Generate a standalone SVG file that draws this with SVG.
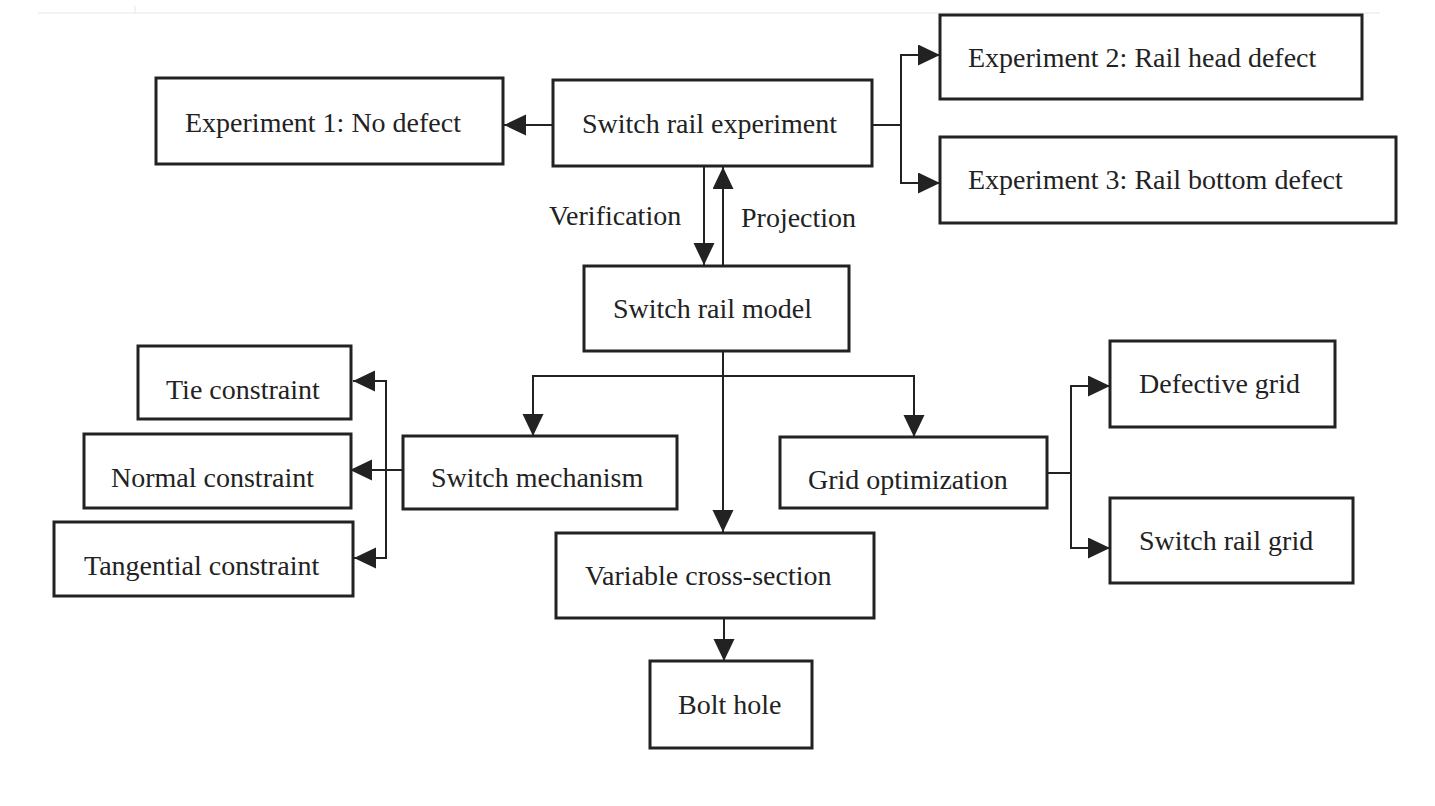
<svg xmlns="http://www.w3.org/2000/svg" width="1435" height="806" viewBox="0 0 1435 806">
<style>
.box{fill:#fff;stroke:#222;stroke-width:3}
.lbl{font-family:"Liberation Serif","Times New Roman",serif;font-size:28px;fill:#222}
.ln{fill:none;stroke:#222;stroke-width:2}
.arr{fill:none;stroke:#222;stroke-width:2;marker-end:url(#ah)}
</style>
<defs>
<marker id="ah" markerUnits="userSpaceOnUse" markerWidth="22" markerHeight="22" refX="22" refY="10.5" orient="auto">
<path d="M0,0 L22,10.5 L0,21 Z" fill="#222"/>
</marker>
</defs>
<rect width="1435" height="806" fill="#fff"/>
<line x1="38" y1="13" x2="1380" y2="13" stroke="#e6e6e6" stroke-width="1"/>
<line x1="135" y1="6" x2="135" y2="13" stroke="#e6e6e6" stroke-width="1"/>

<g id="connectors">
<line class="arr" x1="553" y1="125" x2="504" y2="125"/>
<polyline class="ln" points="873,125 901,125"/>
<line class="ln" x1="901" y1="55" x2="901" y2="183"/>
<line class="arr" x1="900" y1="55" x2="940" y2="55"/>
<line class="arr" x1="900" y1="183" x2="940" y2="183"/>
<line class="arr" x1="704" y1="166" x2="704" y2="265"/>
<line class="arr" x1="723" y1="265" x2="723" y2="167"/>
<line class="arr" x1="723" y1="351" x2="723" y2="532"/>
<polyline class="ln" points="533,376 914,376"/>
<line class="arr" x1="533" y1="375" x2="533" y2="436"/>
<line class="arr" x1="914" y1="375" x2="914" y2="437"/>
<line class="arr" x1="403" y1="470" x2="350" y2="470"/>
<line class="ln" x1="386" y1="381" x2="386" y2="558"/>
<line class="arr" x1="387" y1="381" x2="353" y2="381"/>
<line class="arr" x1="387" y1="558" x2="354" y2="558"/>
<line class="ln" x1="1047" y1="473" x2="1072" y2="473"/>
<line class="ln" x1="1071" y1="386" x2="1071" y2="548"/>
<line class="arr" x1="1070" y1="386" x2="1110" y2="386"/>
<line class="arr" x1="1070" y1="548" x2="1110" y2="548"/>
<line class="arr" x1="724" y1="618" x2="724" y2="661"/>
</g>

<g id="exp1"><rect class="box" x="156" y="78" width="347" height="86"/><text class="lbl" x="185" y="132">Experiment 1: No defect</text></g>
<g id="experiment"><rect class="box" x="553" y="80" width="319" height="86"/><text class="lbl" x="582" y="133">Switch rail experiment</text></g>
<g id="exp2"><rect class="box" x="940" y="15" width="422" height="84"/><text class="lbl" x="968" y="67">Experiment 2: Rail head defect</text></g>
<g id="exp3"><rect class="box" x="940" y="137" width="456" height="86"/><text class="lbl" x="968" y="189">Experiment 3: Rail bottom defect</text></g>
<g id="verification"><text class="lbl" x="549" y="225">Verification</text></g>
<g id="projection"><text class="lbl" x="741" y="227">Projection</text></g>
<g id="model"><rect class="box" x="584" y="266" width="265" height="85"/><text class="lbl" x="613" y="318">Switch rail model</text></g>
<g id="tie"><rect class="box" x="138" y="346" width="213" height="73"/><text class="lbl" x="166" y="399">Tie constraint</text></g>
<g id="normal"><rect class="box" x="84" y="434" width="267" height="74"/><text class="lbl" x="111" y="487">Normal constraint</text></g>
<g id="tangential"><rect class="box" x="54" y="522" width="299" height="74"/><text class="lbl" x="84" y="575">Tangential constraint</text></g>
<g id="mechanism"><rect class="box" x="403" y="436" width="274" height="73"/><text class="lbl" x="431" y="487">Switch mechanism</text></g>
<g id="gridopt"><rect class="box" x="780" y="437" width="267" height="71"/><text class="lbl" x="808" y="489">Grid optimization</text></g>
<g id="defective"><rect class="box" x="1110" y="341" width="225" height="86"/><text class="lbl" x="1139" y="393">Defective grid</text></g>
<g id="railgrid"><rect class="box" x="1110" y="498" width="243" height="85"/><text class="lbl" x="1139" y="550">Switch rail grid</text></g>
<g id="variable"><rect class="box" x="556" y="533" width="318" height="85"/><text class="lbl" x="585" y="585">Variable cross-section</text></g>
<g id="bolt"><rect class="box" x="650" y="661" width="162" height="87"/><text class="lbl" x="678" y="714">Bolt hole</text></g>
</svg>
